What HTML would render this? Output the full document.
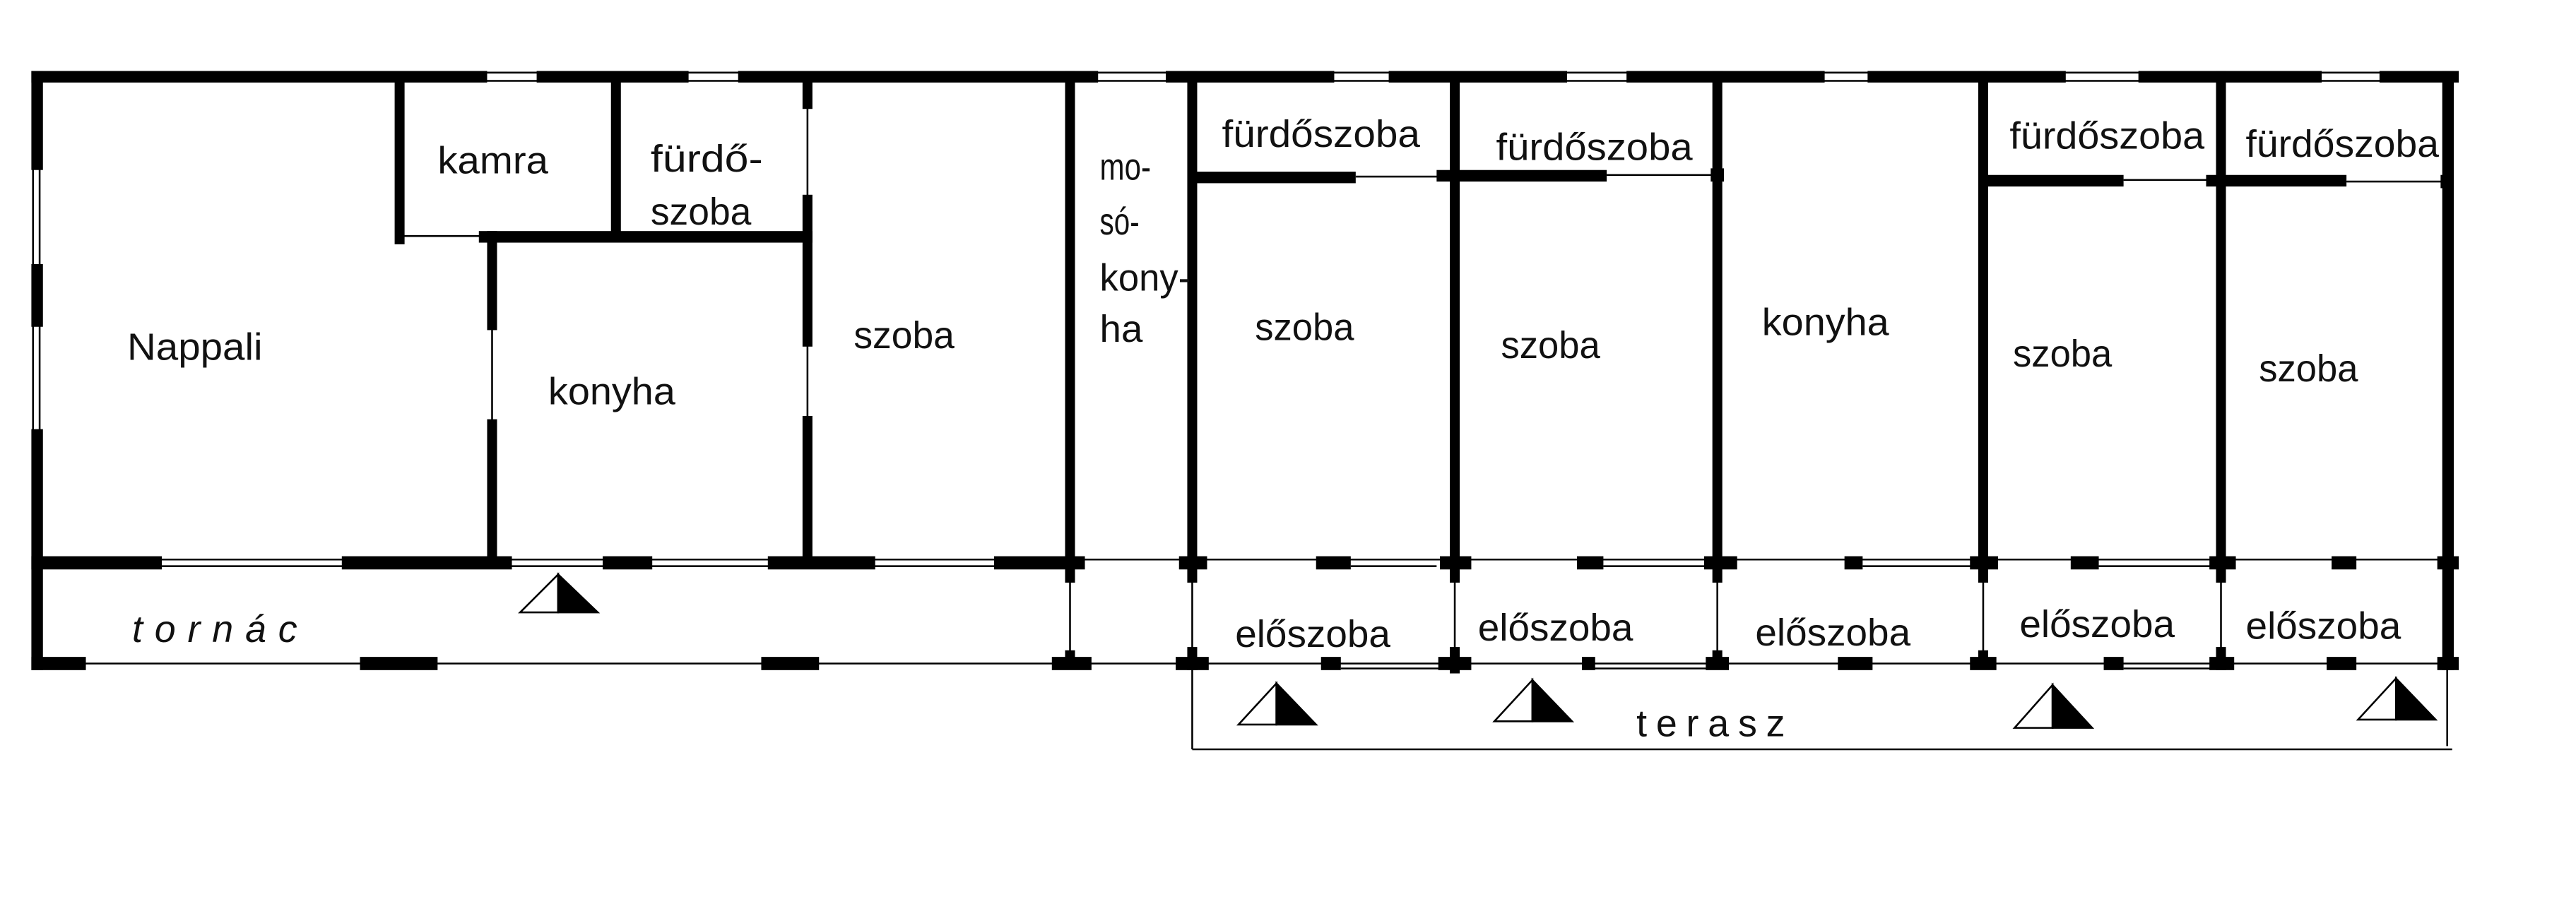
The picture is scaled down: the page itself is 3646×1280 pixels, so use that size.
<!DOCTYPE html>
<html><head><meta charset="utf-8"><style>
html,body{margin:0;padding:0;background:#fff}
svg{display:block}
text{font-family:"Liberation Sans","DejaVu Sans",sans-serif;fill:#111}
</style></head><body>
<svg width="3646" height="1280" viewBox="0 0 1560 547.7" preserveAspectRatio="none" xmlns="http://www.w3.org/2000/svg">
<rect x="0" y="0" width="1560" height="548" fill="#fff"/>
<g stroke="#000" stroke-width="1.1" fill="none">
<line x1="20" y1="44" x2="1488" y2="44"/><line x1="20" y1="49" x2="1488" y2="49"/>
<line x1="20" y1="100" x2="20" y2="265"/><line x1="24" y1="100" x2="24" y2="265"/>
<line x1="242" y1="143" x2="292" y2="143"/>
<line x1="298" y1="195" x2="298" y2="260"/>
<line x1="489" y1="62" x2="489" y2="125"/><line x1="489" y1="205" x2="489" y2="258"/>
<line x1="22" y1="339" x2="1488" y2="339"/><line x1="98" y1="343" x2="602" y2="343"/>
<line x1="818" y1="343" x2="870" y2="343"/><line x1="971" y1="343" x2="1040" y2="343"/><line x1="1128" y1="343" x2="1201" y2="343"/><line x1="1271" y1="343" x2="1345" y2="343"/>
<line x1="22" y1="402" x2="1482" y2="402"/>
<line x1="812" y1="405" x2="881" y2="405"/><line x1="965" y1="405" x2="1040" y2="405"/><line x1="1286" y1="405" x2="1345" y2="405"/>
<line x1="648" y1="341" x2="648" y2="402"/>
<line x1="722" y1="341" x2="722" y2="454"/>
<line x1="881" y1="341" x2="881" y2="402"/>
<line x1="1040" y1="341" x2="1040" y2="402"/>
<line x1="1201" y1="341" x2="1201" y2="402"/>
<line x1="1345" y1="341" x2="1345" y2="402"/>
<line x1="1482" y1="402" x2="1482" y2="452"/>
<line x1="722" y1="454" x2="1485" y2="454"/>
<line x1="821" y1="107" x2="881" y2="107"/>
<line x1="973" y1="106" x2="1040" y2="106"/>
<line x1="1286" y1="109" x2="1345" y2="109"/>
<line x1="1421" y1="110" x2="1482" y2="110"/>
</g>
<g fill="#000">
<rect x="19" y="43" width="276" height="7"/>
<rect x="325" y="43" width="92" height="7"/>
<rect x="447" y="43" width="218" height="7"/>
<rect x="706" y="43" width="102" height="7"/>
<rect x="841" y="43" width="108" height="7"/>
<rect x="985" y="43" width="120" height="7"/>
<rect x="1131" y="43" width="120" height="7"/>
<rect x="1295" y="43" width="111" height="7"/>
<rect x="1441" y="43" width="48" height="7"/>
<rect x="19" y="43" width="7" height="60"/>
<rect x="19" y="160" width="7" height="38"/>
<rect x="19" y="260" width="7" height="146"/>
<rect x="239" y="46" width="6" height="102"/>
<rect x="370" y="46" width="6" height="98"/>
<rect x="290" y="140" width="202" height="7"/>
<rect x="295" y="140" width="6" height="60"/>
<rect x="295" y="254" width="6" height="87"/>
<rect x="486" y="46" width="6" height="20"/>
<rect x="486" y="118" width="6" height="92"/>
<rect x="486" y="252" width="6" height="90"/>
<rect x="645" y="43" width="6" height="310"/>
<rect x="19" y="337" width="79" height="8"/>
<rect x="207" y="337" width="103" height="8"/>
<rect x="365" y="337" width="30" height="8"/>
<rect x="465" y="337" width="65" height="8"/>
<rect x="602" y="337" width="55" height="8"/>
<rect x="19" y="398" width="33" height="8"/>
<rect x="218" y="398" width="47" height="8"/>
<rect x="461" y="398" width="35" height="8"/>
<rect x="637" y="398" width="24" height="8"/>
<rect x="645" y="394" width="6" height="10"/>
<rect x="719" y="43" width="6" height="310"/>
<rect x="878" y="43" width="6" height="310"/>
<rect x="1037" y="43" width="6" height="310"/>
<rect x="1198" y="43" width="6" height="310"/>
<rect x="1342" y="43" width="6" height="310"/>
<rect x="1479" y="43" width="7" height="363"/>
<rect x="722" y="104" width="99" height="7"/>
<rect x="870" y="103" width="103" height="7"/>
<rect x="1036" y="102" width="8" height="8"/>
<rect x="1201" y="106" width="85" height="7"/>
<rect x="1336" y="106" width="85" height="7"/>
<rect x="1478" y="106" width="8" height="8"/>
<rect x="714" y="337" width="17" height="8"/>
<rect x="797" y="337" width="21" height="8"/>
<rect x="872" y="337" width="19" height="8"/>
<rect x="955" y="337" width="16" height="8"/>
<rect x="1032" y="337" width="20" height="8"/>
<rect x="1117" y="337" width="11" height="8"/>
<rect x="1193" y="337" width="17" height="8"/>
<rect x="1254" y="337" width="17" height="8"/>
<rect x="1338" y="337" width="16" height="8"/>
<rect x="1412" y="337" width="15" height="8"/>
<rect x="1476" y="337" width="13" height="8"/>
<rect x="712" y="398" width="20" height="8"/><rect x="719" y="392" width="6" height="14"/>
<rect x="800" y="398" width="12" height="8"/>
<rect x="871" y="398" width="20" height="8"/><rect x="878" y="392" width="6" height="16"/>
<rect x="958" y="398" width="8" height="8"/>
<rect x="1033" y="398" width="14" height="8"/><rect x="1037" y="394" width="6" height="10"/>
<rect x="1113" y="398" width="21" height="8"/>
<rect x="1193" y="398" width="16" height="8"/><rect x="1198" y="394" width="6" height="10"/>
<rect x="1274" y="398" width="12" height="8"/>
<rect x="1338" y="398" width="15" height="8"/><rect x="1342" y="392" width="6" height="14"/>
<rect x="1409" y="398" width="18" height="8"/>
<rect x="1476" y="398" width="13" height="8"/>
</g>
<g stroke="#000" stroke-width="1.1">
<path d="M315 371 L338 348 L338 371 Z" fill="#fff"/><path d="M338 348 L362 371 L338 371 Z" fill="#000"/>
<path d="M750 439 L773 414 L773 439 Z" fill="#fff"/><path d="M773 414 L797 439 L773 439 Z" fill="#000"/>
<path d="M905 437 L928 412 L928 437 Z" fill="#fff"/><path d="M928 412 L952 437 L928 437 Z" fill="#000"/>
<path d="M1220 441 L1243 415 L1243 441 Z" fill="#fff"/><path d="M1243 415 L1267 441 L1243 441 Z" fill="#000"/>
<path d="M1428 436 L1451 411 L1451 436 Z" fill="#fff"/><path d="M1451 411 L1475 436 L1451 436 Z" fill="#000"/>
</g>
<g font-size="23">
<text x="265" y="105" textLength="67" lengthAdjust="spacingAndGlyphs">kamra</text>
<text x="394" y="104" textLength="68" lengthAdjust="spacingAndGlyphs">fürdő-</text>
<text x="394" y="136" textLength="61" lengthAdjust="spacingAndGlyphs">szoba</text>
<text x="77" y="218" textLength="82" lengthAdjust="spacingAndGlyphs">Nappali</text>
<text x="332" y="245" textLength="77" lengthAdjust="spacingAndGlyphs">konyha</text>
<text x="517" y="211" textLength="61" lengthAdjust="spacingAndGlyphs">szoba</text>
<text x="666" y="109" textLength="31" lengthAdjust="spacingAndGlyphs">mo-</text>
<text x="666" y="142" textLength="24" lengthAdjust="spacingAndGlyphs">só-</text>
<text x="666" y="176" textLength="55" lengthAdjust="spacingAndGlyphs">kony-</text>
<text x="666" y="207" textLength="26" lengthAdjust="spacingAndGlyphs">ha</text>
<text x="740" y="89" textLength="120" lengthAdjust="spacingAndGlyphs">fürdőszoba</text>
<text x="906" y="97" textLength="119" lengthAdjust="spacingAndGlyphs">fürdőszoba</text>
<text x="1217" y="90" textLength="118" lengthAdjust="spacingAndGlyphs">fürdőszoba</text>
<text x="1360" y="95" textLength="117" lengthAdjust="spacingAndGlyphs">fürdőszoba</text>
<text x="760" y="206" textLength="60" lengthAdjust="spacingAndGlyphs">szoba</text>
<text x="909" y="217" textLength="60" lengthAdjust="spacingAndGlyphs">szoba</text>
<text x="1067" y="203" textLength="77" lengthAdjust="spacingAndGlyphs">konyha</text>
<text x="1219" y="222" textLength="60" lengthAdjust="spacingAndGlyphs">szoba</text>
<text x="1368" y="231" textLength="60" lengthAdjust="spacingAndGlyphs">szoba</text>
<text x="748" y="392" textLength="94" lengthAdjust="spacingAndGlyphs">előszoba</text>
<text x="895" y="388" textLength="94" lengthAdjust="spacingAndGlyphs">előszoba</text>
<text x="1063" y="391" textLength="94" lengthAdjust="spacingAndGlyphs">előszoba</text>
<text x="1223" y="386" textLength="94" lengthAdjust="spacingAndGlyphs">előszoba</text>
<text x="1360" y="387" textLength="94" lengthAdjust="spacingAndGlyphs">előszoba</text>
<text x="80" y="389" font-style="italic" textLength="100" lengthAdjust="spacing">tornác</text>
<text x="991" y="446" textLength="90" lengthAdjust="spacing">terasz</text>
</g>
</svg>
</body></html>
